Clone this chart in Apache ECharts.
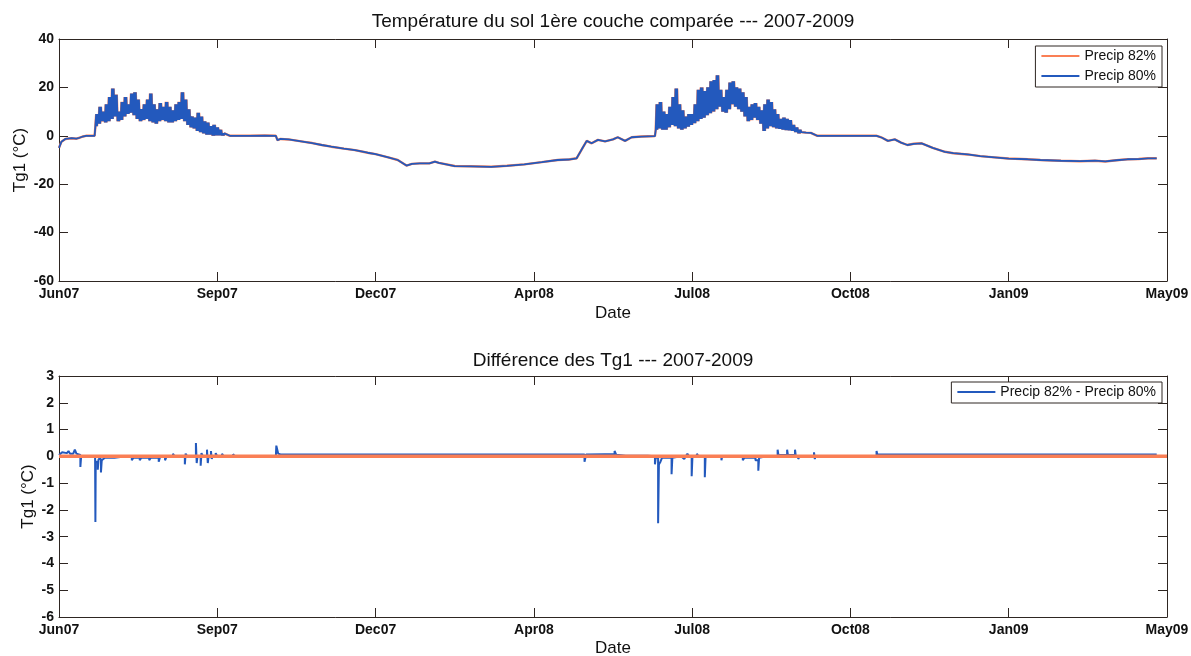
<!DOCTYPE html>
<html>
<head>
<meta charset="utf-8">
<title>Tg1 2007-2009</title>
<script src="https://cdn.jsdelivr.net/npm/echarts@6/dist/echarts.min.js"></script>
<style>
  html, body { margin: 0; padding: 0; background: #fff; }
  #chart { width: 1191px; height: 656px; }
</style>
</head>
<body>
<div id="chart"></div>
<script>
// x = jours depuis le debut de la serie (Jun07 = 0, May09 = 700)
const tickLabels = ['Jun07', 'Sep07', 'Dec07', 'Apr08', 'Jul08', 'Oct08', 'Jan09', 'May09'];

// Tg1 (°C) : parties lisses, [jour, valeur]
const tg1Start = [
  [0, -5], [1.5, -2.5], [4, -1.3], [8, -1], [11, -1.2], [12, -1.7], [13, -0.8],
  [15, -0.3], [17, 0], [22.5, 0]
];
const tg1Autumn07 = [
  [104, 0.3], [108, 0], [120, 0], [130, 0.1], [137, 0], [138, -1.8], [140, -1.3],
  [145, -1.5], [150, -2], [155, -2.5], [160, -3], [166, -3.8], [172, -4.5], [180, -5.3],
  [187, -5.9], [195, -7], [200, -7.6], [208, -8.9], [214, -10], [219.5, -12.3],
  [223, -11.6], [228, -11.4], [234, -11.4], [237.5, -10.7], [240, -11.2], [250, -12.5],
  [260, -12.6], [273, -12.8], [283, -12.4], [294, -11.8], [305, -10.9], [315, -10],
  [322, -9.8], [327, -9.3], [330, -5.9], [333.4, -2.1], [336.5, -3.1], [340.5, -1.7],
  [345, -2.3], [350, -1.5], [353, -0.6], [357.6, -2.1], [361.8, -0.6], [368, -0.3],
  [376.5, -0.1]
];
const tg1Autumn08 = [
  [469, 1.5], [472, 1.3], [475, 1.2], [479, 0], [490, 0], [505, 0], [516.6, 0],
  [520, -0.8], [523.7, -2.1], [528, -1.5], [532, -2.8], [536, -3.8], [540, -3.3],
  [545, -3.1], [552, -5], [559.7, -6.6], [565, -7.2], [574, -7.7], [582, -8.4],
  [591, -8.9], [600, -9.4], [612, -9.7], [620, -10], [633, -10.3], [645, -10.5],
  [654.5, -10.3], [661, -10.6], [668, -10.1], [675, -9.7], [682, -9.6], [688, -9.3],
  [693.5, -9.3]
];

// etes : enveloppes du cycle diurne, un point tous les 2 jours
const summer07Start = 23;
const summer07High = [9, 12, 10, 13, 16, 19.5, 17, 10, 14, 16, 13, 17.5, 18, 15, 11, 13, 15, 17.5, 13, 11,
  13.5, 12, 14, 12, 10.5, 13, 14, 18, 15, 11, 8, 7.5, 9.5, 8, 6, 5.5, 4, 4.5, 3.5, 2.5, 1];
const summer07Low = [4, 5, 6, 5.5, 6, 7, 8, 6, 6.5, 8, 9, 9.5, 8.5, 7, 6, 6.5, 7, 6, 5.5, 5,
  6, 6.5, 6, 5.5, 5.5, 6, 6.5, 7, 6, 4.5, 3.5, 3, 2, 1.5, 1, 0.5, 0.5, 0, 0.2, 0.2, 0.1];
const summer08Start = 377;
const summer08High = [13, 14, 10, 9, 12, 16, 19.5, 13, 10.5, 8, 9, 9, 13, 19, 20, 18.5, 20, 22.5, 23, 25,
  19, 16, 19, 22, 22.5, 20, 19.5, 18, 16, 12, 13, 13.5, 12, 10.5, 13, 15, 14, 11, 9, 7,
  7.5, 7, 6.5, 4.5, 3.5, 2.5];
const summer08Low = [2.5, 3, 2.5, 2.5, 3.5, 4.5, 4, 3, 2.5, 3, 3.8, 4.5, 5.2, 6, 7, 7.5, 8.5, 9.3, 10, 11,
  12, 10, 9.5, 11, 13, 12, 11, 10, 8, 6, 6.5, 7.5, 6.5, 5, 2, 3, 4, 3.5, 3, 2.8,
  2.5, 2.3, 2.2, 2, 1.5, 1];

// difference Precip 82% - Precip 80%, [jour, valeur]
const tg1Diff = [
  [0, 0.05], [2, 0.15], [3, 0.1], [5, 0.12], [6, 0.2], [7, 0.1], [9, 0.1], [10, 0.25], [11, 0.1],
  [12, 0.05], [13.5, 0.05], [13.5, -0.4], [14, -0.4], [14, 0], [22.8, 0], [23, -2.45], [23.2, -0.2],
  [24.5, -0.2], [24.5, -0.5], [25, -0.1], [26.5, -0.1], [26.5, -0.6], [27, -0.15], [29, -0.05],
  [35, -0.05], [40, -0.02], [46, -0.02], [46, -0.15], [47, -0.05], [51, -0.05], [51, -0.15],
  [52, -0.05], [57, -0.05], [57, -0.15], [58, -0.05], [60, -0.05], [60, -0.12], [61, -0.05],
  [63, -0.05], [63, -0.2], [64, 0], [67, 0], [67, -0.15], [68, 0], [72, 0], [72, 0.1], [73, 0],
  [79.5, 0], [79.5, -0.3], [80, 0.1], [81, 0], [86.5, 0], [86.5, 0.5], [87, -0.25], [87.5, 0],
  [89.5, 0], [89.5, -0.35], [90, 0.12], [91, 0], [93.5, 0], [93.5, 0.25], [94, -0.25], [94.5, 0],
  [96, 0], [96, 0.2], [96.5, -0.1], [97, 0], [99, 0], [99, 0.12], [100, 0], [103, 0], [103, 0.1],
  [104, 0], [110, 0], [110, 0.08], [111, 0], [137, 0], [137.3, 0.4], [138.5, 0.1], [140, 0.07],
  [330, 0.07], [332, 0.07], [332, -0.2], [333, 0.07], [345, 0.08], [351, 0.08], [351, 0.2],
  [352, 0.06], [358, 0.02], [372, 0.02], [376.5, 0], [376.5, -0.3], [377, -0.05], [378.5, -0.05],
  [378.5, -2.5], [379, -0.3], [380, -0.2], [381, -0.05], [387, -0.05], [387, -0.67], [387.5, -0.05],
  [393, 0], [393, 0.05], [395, -0.1], [396, 0], [397, 0.1], [398, 0], [399.7, 0], [399.7, -0.74],
  [400.2, 0], [403, 0], [403, 0.1], [404, 0], [408, 0], [408, -0.78], [408.5, 0], [418.5, 0],
  [418.5, -0.15], [419, 0], [432, 0], [432, -0.15], [433, -0.05], [436, -0.05], [436, -0.1],
  [437, -0.05], [440, -0.05], [440, -0.15], [441.8, -0.15], [441.8, -0.54], [442.3, -0.05], [447, 0],
  [454, 0], [454, 0.25], [454.5, 0.05], [460, 0.05], [460, 0.25], [460.5, 0.05], [465, 0.05],
  [465, 0.25], [465.5, 0], [467, 0], [467, -0.1], [468, 0], [477, 0], [477, 0.15], [477.5, -0.1],
  [478, 0], [516.5, 0], [516.5, 0.2], [517, 0.07], [693.5, 0.07]
];
const zeroLine = [[0, 0], [700, 0]];

// cycle diurne : alterne creux / pics lus sur chaque pas de 2 jours
function bandPoints(start, low, high) {
  const pts = [];
  for (let i = 0; i < low.length; i++) {
    for (let k = 0; k < 4; k++) {
      pts.push([start + 2 * i + k * 0.5, k % 2 ? high[i] : low[i]]);
    }
  }
  return pts;
}

const tg1Precip80 = tg1Start.concat(
  bandPoints(summer07Start, summer07Low, summer07High),
  tg1Autumn07,
  bandPoints(summer08Start, summer08Low, summer08High),
  tg1Autumn08
);
// les deux courbes se superposent a l'epaisseur du trait pres
const tg1Precip82 = tg1Precip80;

const BLUE = '#2359bd';
const ORANGE = '#fa7f55';
const FRAME = '#2e2622';
const FONT = 'Liberation Sans, Arial, sans-serif';

function xAxes(grid, nameGap) {
  return [
    {
      type: 'value', gridIndex: grid, position: 'bottom', min: 0, max: 700, interval: 100,
      name: 'Date', nameLocation: 'middle', nameGap: nameGap,
      nameTextStyle: { fontFamily: FONT, fontSize: 17, color: '#111' },
      axisLine: { show: true, onZero: false, lineStyle: { color: FRAME } },
      axisTick: { inside: true, length: 9, lineStyle: { color: FRAME } },
      axisLabel: {
        margin: 6, fontFamily: FONT, fontSize: 14, fontWeight: 'bold', color: '#111',
        formatter: v => tickLabels[Math.round(v / 100)]
      },
      splitLine: { show: false }
    },
    {
      type: 'value', gridIndex: grid, position: 'top', min: 0, max: 700, interval: 100,
      axisLine: { show: true, onZero: false, lineStyle: { color: FRAME } },
      axisTick: { inside: true, length: 9, lineStyle: { color: FRAME } },
      axisLabel: { show: false },
      splitLine: { show: false }
    }
  ];
}

function yAxes(grid, min, max, interval, nameGap) {
  return [
    {
      type: 'value', gridIndex: grid, position: 'left', min: min, max: max, interval: interval,
      name: 'Tg1 (°C)', nameLocation: 'middle', nameGap: nameGap, nameMoveOverlap: false,
      nameTextStyle: { fontFamily: FONT, fontSize: 17, color: '#111' },
      axisLine: { show: true, onZero: false, lineStyle: { color: FRAME } },
      axisTick: { inside: true, length: 9, lineStyle: { color: FRAME } },
      axisLabel: { margin: 5, fontFamily: FONT, fontSize: 14, fontWeight: 'bold', color: '#111' },
      splitLine: { show: false }
    },
    {
      type: 'value', gridIndex: grid, position: 'right', min: min, max: max, interval: interval,
      axisLine: { show: true, onZero: false, lineStyle: { color: FRAME } },
      axisTick: { inside: true, length: 9, lineStyle: { color: FRAME } },
      axisLabel: { show: false },
      splitLine: { show: false }
    }
  ];
}

const legendBase = {
  orient: 'vertical', right: 29, icon: 'rect',
  backgroundColor: '#fff', borderColor: FRAME, borderWidth: 1,
  padding: [3, 6, 4, 6], itemGap: 6, itemWidth: 38, itemHeight: 2,
  textStyle: { fontFamily: FONT, fontSize: 14, color: '#111' }
};

const chart = echarts.init(document.getElementById('chart'), null, { renderer: 'canvas' });

chart.setOption({
  backgroundColor: '#fff',
  animation: false,
  title: [
    {
      text: 'Température du sol 1ère couche comparée --- 2007-2009',
      left: 608, top: 7, textAlign: 'center',
      textStyle: { fontFamily: FONT, fontSize: 19, fontWeight: 'normal', color: '#111' }
    },
    {
      text: 'Différence des Tg1 --- 2007-2009',
      left: 608, top: 346, textAlign: 'center',
      textStyle: { fontFamily: FONT, fontSize: 19, fontWeight: 'normal', color: '#111' }
    }
  ],
  legend: [
    Object.assign({}, legendBase, { data: ['Precip 82%', 'Precip 80%'], top: 46 }),
    Object.assign({}, legendBase, { data: ['Precip 82% - Precip 80%'], top: 382 })
  ],
  grid: [
    { left: 59, top: 39, width: 1108, height: 242, outerBoundsMode: 'none' },
    { left: 59, top: 376, width: 1108, height: 241, outerBoundsMode: 'none' }
  ],
  xAxis: xAxes(0, 24).concat(xAxes(1, 23)),
  yAxis: yAxes(0, -60, 40, 20, 30).concat(yAxes(1, -6, 3, 1, 22)),
  series: [
    {
      name: 'Precip 82%', type: 'line', xAxisIndex: 0, yAxisIndex: 0,
      data: tg1Precip82, showSymbol: false, symbol: 'none',
      lineStyle: { color: ORANGE, width: 2.4 }, itemStyle: { color: ORANGE }
    },
    {
      name: 'Precip 80%', type: 'line', xAxisIndex: 0, yAxisIndex: 0,
      data: tg1Precip80, showSymbol: false, symbol: 'none',
      lineStyle: { color: BLUE, width: 1.8 }, itemStyle: { color: BLUE }
    },
    {
      name: 'Precip 82% - Precip 80%', type: 'line', xAxisIndex: 2, yAxisIndex: 2,
      data: tg1Diff, showSymbol: false, symbol: 'none',
      lineStyle: { color: BLUE, width: 2 }, itemStyle: { color: BLUE }
    },
    {
      name: 'zero', type: 'line', xAxisIndex: 2, yAxisIndex: 2, z: 3,
      data: zeroLine, showSymbol: false, symbol: 'none',
      lineStyle: { color: ORANGE, width: 3.5 }, itemStyle: { color: ORANGE }
    }
  ]
});
</script>
</body>
</html>
